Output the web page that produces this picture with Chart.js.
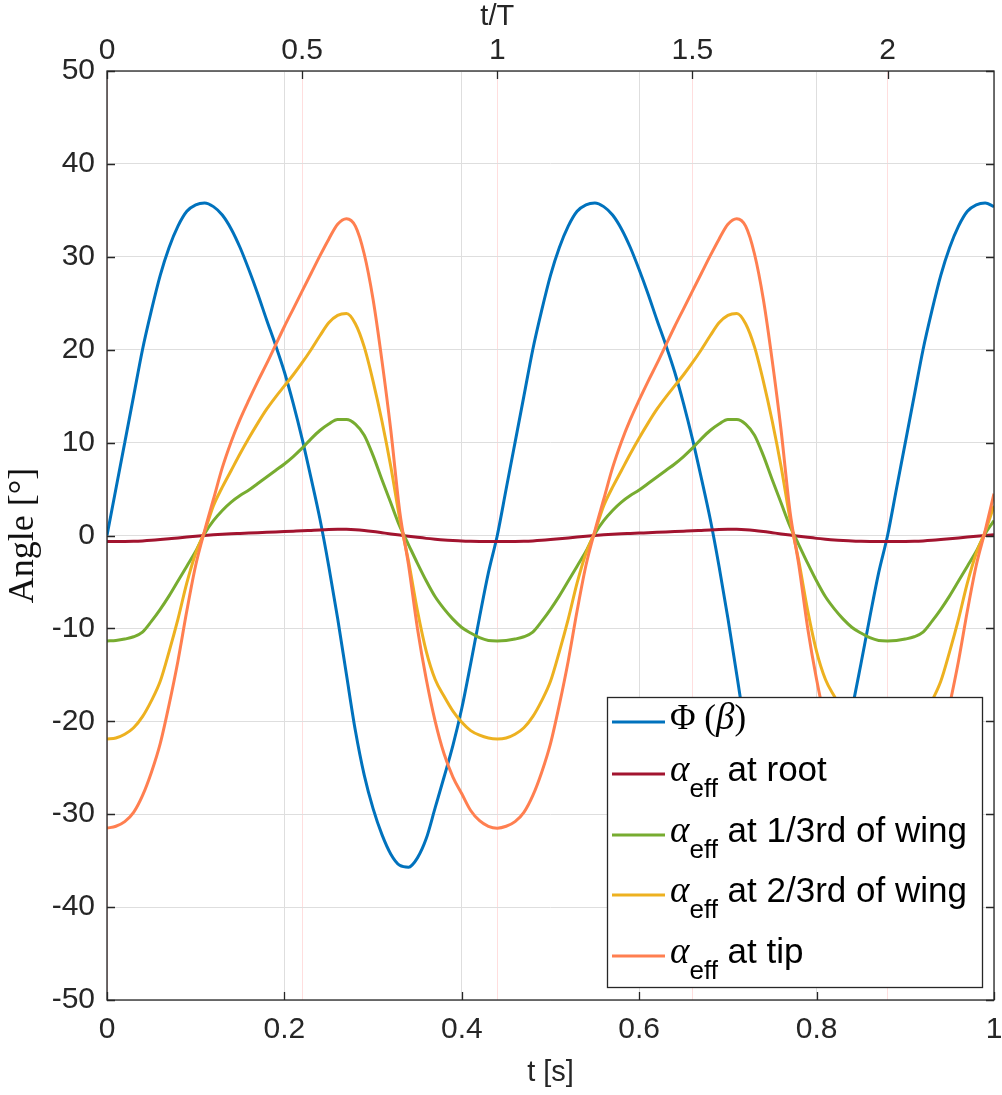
<!DOCTYPE html>
<html>
<head>
<meta charset="utf-8">
<script src="https://cdn.jsdelivr.net/npm/chart.js@4.4.0/dist/chart.umd.min.js"></script>
<style>
  html, body { margin: 0; padding: 0; background: #fff; }
  #wrap { width: 1002px; height: 1095px; }
</style>
</head>
<body>
<div id="wrap"><canvas id="angleChart" width="1002" height="1095"></canvas></div>
<script>
// --- data: time in s, angles in degrees ---
const tSec = [
  0, 0.01, 0.02, 0.03, 0.04, 0.05, 0.06, 0.07, 0.08, 0.09,
  0.10, 0.11, 0.12, 0.13, 0.14, 0.15, 0.16, 0.17, 0.18, 0.19,
  0.20, 0.21, 0.22, 0.23, 0.24, 0.25, 0.26, 0.27, 0.28, 0.29,
  0.30, 0.31, 0.32, 0.33, 0.34, 0.35, 0.36, 0.37, 0.38, 0.39,
  0.40, 0.41, 0.42, 0.43, 0.44, 0.45, 0.46, 0.47, 0.48, 0.49,
  0.50, 0.51, 0.52, 0.53, 0.54, 0.55, 0.56, 0.57, 0.58, 0.59,
  0.60, 0.61, 0.62, 0.63, 0.64, 0.65, 0.66, 0.67, 0.68, 0.69,
  0.70, 0.71, 0.72, 0.73, 0.74, 0.75, 0.76, 0.77, 0.78, 0.79,
  0.80, 0.81, 0.82, 0.83, 0.84, 0.85, 0.86, 0.87, 0.88, 0.89,
  0.90, 0.91, 0.92, 0.93, 0.94, 0.95, 0.96, 0.97, 0.98, 0.99,
  1.00
];

const phiBeta = [
  0, 5.0, 10.0, 15.0, 20.0, 24.2, 28.0, 31.0, 33.3, 34.9,
  35.6, 35.8, 35.4, 34.5, 33.0, 31.0, 28.6, 26.0, 23.2, 20.5,
  17.6, 14.2, 10.4, 6.2, 1.8, -3.3, -8.9, -15.0, -21.0, -25.8,
  -29.4, -32.2, -34.3, -35.5, -35.7, -34.7, -32.6, -29.3, -26.0, -22.6,
  -18.6, -13.8, -8.8, -4.0, 0, 5.0, 10.0, 15.0, 20.0, 24.2,
  28.0, 31.0, 33.3, 34.9, 35.6, 35.8, 35.4, 34.5, 33.0, 31.0,
  28.6, 26.0, 23.2, 20.5, 17.6, 14.2, 10.4, 6.2, 1.8, -3.3,
  -8.9, -15.0, -21.0, -25.8, -29.4, -32.2, -34.3, -35.5, -35.7, -34.7,
  -32.6, -29.3, -26.0, -22.6, -18.6, -13.8, -8.8, -4.0, 0, 5.0,
  10.0, 15.0, 20.0, 24.2, 28.0, 31.0, 33.3, 34.9, 35.6, 35.8,
  35.4
];

const aRoot = [
  -0.65, -0.65, -0.64, -0.62, -0.58, -0.52, -0.44, -0.35, -0.26, -0.17,
  -0.08, 0.0, 0.07, 0.13, 0.18, 0.22, 0.26, 0.30, 0.34, 0.38,
  0.42, 0.46, 0.50, 0.55, 0.60, 0.64, 0.66, 0.66, 0.62, 0.54,
  0.43, 0.30, 0.17, 0.05, -0.08, -0.20, -0.31, -0.40, -0.48, -0.54,
  -0.59, -0.62, -0.64, -0.65, -0.65, -0.65, -0.64, -0.62, -0.58, -0.52,
  -0.44, -0.35, -0.26, -0.17, -0.08, 0.0, 0.07, 0.13, 0.18, 0.22,
  0.26, 0.30, 0.34, 0.38, 0.42, 0.46, 0.50, 0.55, 0.60, 0.64,
  0.66, 0.66, 0.62, 0.54, 0.43, 0.30, 0.17, 0.05, -0.08, -0.20,
  -0.31, -0.40, -0.48, -0.54, -0.59, -0.62, -0.64, -0.65, -0.65, -0.65,
  -0.64, -0.62, -0.58, -0.52, -0.44, -0.35, -0.26, -0.17, -0.08, 0.0,
  0.07
];

const aThird = [
  -11.35, -11.3, -11.15, -10.9, -10.4, -9.25, -7.95, -6.5, -4.9, -3.3,
  -1.7, 0.2, 1.6, 2.7, 3.6, 4.3, 4.9, 5.6, 6.3, 7.0,
  7.7, 8.5, 9.4, 10.4, 11.3, 12.0, 12.5, 12.5, 12.0, 10.8,
  8.6, 6.0, 3.5, 1.0, -1.0, -3.0, -4.9, -6.6, -7.9, -9.0,
  -9.9, -10.5, -11.0, -11.3, -11.35, -11.3, -11.15, -10.9, -10.4, -9.25,
  -7.95, -6.5, -4.9, -3.3, -1.7, 0.2, 1.6, 2.7, 3.6, 4.3,
  4.9, 5.6, 6.3, 7.0, 7.7, 8.5, 9.4, 10.4, 11.3, 12.0,
  12.5, 12.5, 12.0, 10.8, 8.6, 6.0, 3.5, 1.0, -1.0, -3.0,
  -4.9, -6.6, -7.9, -9.0, -9.9, -10.5, -11.0, -11.3, -11.35, -11.3,
  -11.15, -10.9, -10.4, -9.25, -7.95, -6.5, -4.9, -3.3, -1.7, 0.2,
  1.6
];

const aTwoThird = [
  -21.9, -21.8, -21.4, -20.7, -19.5, -17.8, -15.7, -12.5, -9.0, -5.1,
  -1.9, 0.4, 3.2, 5.2, 7.0, 8.8, 10.5, 12.1, 13.6, 14.9,
  16.1, 17.3, 18.6, 20.0, 21.5, 22.9, 23.7, 23.9, 22.8, 20.3,
  16.6, 12.3, 7.4, 1.8, -2.8, -8.1, -12.5, -15.5, -17.3, -18.9,
  -20.1, -21.0, -21.5, -21.8, -21.9, -21.8, -21.4, -20.7, -19.5, -17.8,
  -15.7, -12.5, -9.0, -5.1, -1.9, 0.4, 3.2, 5.2, 7.0, 8.8,
  10.5, 12.1, 13.6, 14.9, 16.1, 17.3, 18.6, 20.0, 21.5, 22.9,
  23.7, 23.9, 22.8, 20.3, 16.6, 12.3, 7.4, 1.8, -2.8, -8.1,
  -12.5, -15.5, -17.3, -18.9, -20.1, -21.0, -21.5, -21.8, -21.9, -21.8,
  -21.4, -20.7, -19.5, -17.8, -15.7, -12.5, -9.0, -5.1, -1.9, 0.4,
  3.2
];

const aTip = [
  -31.5, -31.3, -30.8, -29.8, -28.0, -25.5, -22.4, -18.2, -13.5, -8.1,
  -3.2, 0.5, 3.9, 7.3, 10.1, 12.5, 14.6, 16.6, 18.5, 20.5,
  22.5, 24.4, 26.3, 28.2, 30.1, 31.9, 33.5, 34.1, 33.3, 30.3,
  25.4, 18.8, 11.3, 2.6, -3.2, -10.0, -15.5, -20.0, -23.5, -26.0,
  -27.8, -29.6, -30.7, -31.3, -31.5, -31.3, -30.8, -29.8, -28.0, -25.5,
  -22.4, -18.2, -13.5, -8.1, -3.2, 0.5, 3.9, 7.3, 10.1, 12.5,
  14.6, 16.6, 18.5, 20.5, 22.5, 24.4, 26.3, 28.2, 30.1, 31.9,
  33.5, 34.1, 33.3, 30.3, 25.4, 18.8, 11.3, 2.6, -3.2, -10.0,
  -15.5, -20.0, -23.5, -26.0, -27.8, -29.6, -30.7, -31.3, -31.5, -31.3,
  -30.8, -29.8, -28.0, -25.5, -22.4, -18.2, -13.5, -8.1, -3.2, 0.5,
  4.5
];

const xTicks = [0, 0.2, 0.4, 0.6, 0.8, 1];
const yTicks = [-50, -40, -30, -20, -10, 0, 10, 20, 30, 40, 50];
const topTicks = [0, 0.5, 1, 1.5, 2];   // t/T
const periodT = 0.44;                   // s

const seriesLabels = ['Φ (β)', 'α_eff at root', 'α_eff at 1/3rd of wing', 'α_eff at 2/3rd of wing', 'α_eff at tip'];
// pieces for the legend: s = sans, r = serif, i = serif italic, b = subscript
const legendPieces = [
  [['Φ', 'r'], [' (', 'r'], ['β', 'i'], [')', 'r']],
  [['α', 'i'], ['eff', 'b'], [' at root', 's']],
  [['α', 'i'], ['eff', 'b'], [' at 1/3rd of wing', 's']],
  [['α', 'i'], ['eff', 'b'], [' at 2/3rd of wing', 's']],
  [['α', 'i'], ['eff', 'b'], [' at tip', 's']]
];

const SANS = '"Liberation Sans", Arial, Helvetica, sans-serif';
const SERIF = '"Liberation Serif", "Times New Roman", serif';
const AXIS = '#262626';

function pts(vals) {
  return tSec.map((t, i) => ({ x: t, y: vals[i] }));
}

// no extra room for half-labels at the ends: keep the box where it is
function noEdgePad(s) {
  s.paddingLeft = 0; s.paddingRight = 0; s.paddingTop = 0; s.paddingBottom = 0;
}

// inward ticks + box, like a MATLAB axes; t/T title over the 0..2 span
const axisBox = {
  id: 'axisBox',
  afterDatasetsDraw(chart) {
    const { ctx, chartArea: a, scales } = chart;
    const tl = 8;
    ctx.save();
    ctx.strokeStyle = AXIS;
    ctx.lineWidth = 1.3;
    ctx.strokeRect(a.left, a.top, a.right - a.left, a.bottom - a.top);
    ctx.beginPath();
    scales.x.ticks.forEach(t => {
      const p = Math.round(scales.x.getPixelForValue(t.value)) + 0.5;
      ctx.moveTo(p, a.bottom); ctx.lineTo(p, a.bottom - tl);
    });
    scales.x2.ticks.forEach(t => {
      const p = Math.round(scales.x2.getPixelForValue(t.value)) + 0.5;
      ctx.moveTo(p, a.top); ctx.lineTo(p, a.top + tl);
    });
    scales.y.ticks.forEach(t => {
      const p = Math.round(scales.y.getPixelForValue(t.value)) + 0.5;
      ctx.moveTo(a.left, p); ctx.lineTo(a.left + tl, p);
      ctx.moveTo(a.right, p); ctx.lineTo(a.right - tl, p);
    });
    ctx.stroke();

    const first = scales.x2.getPixelForValue(topTicks[0]);
    const last = scales.x2.getPixelForValue(topTicks[topTicks.length - 1]);
    ctx.fillStyle = AXIS;
    ctx.font = '29px ' + SANS;
    ctx.textAlign = 'center';
    ctx.textBaseline = 'middle';
    ctx.fillText('t/T', (first + last) / 2, 17);
    ctx.restore();
  }
};

// legend box in the lower right, drawn with subscript text
const boxLegend = {
  id: 'boxLegend',
  afterDraw(chart) {
    const { ctx, chartArea: a } = chart;
    const box = { left: 607, top: 697, right: a.right - 12, bottom: a.bottom - 13 };
    const rowY = [722, 774, 835, 895, 956];
    const fonts = {
      s: '35px ' + SANS,
      r: '35px ' + SERIF,
      i: 'italic 37px ' + SERIF,
      b: '26px ' + SANS
    };
    ctx.save();
    ctx.fillStyle = '#fff';
    ctx.fillRect(box.left, box.top, box.right - box.left, box.bottom - box.top);
    ctx.strokeStyle = AXIS;
    ctx.lineWidth = 1.3;
    ctx.strokeRect(box.left + 0.5, box.top + 0.5, box.right - box.left, box.bottom - box.top);
    chart.data.datasets.forEach((ds, k) => {
      const y = rowY[k];
      ctx.strokeStyle = ds.borderColor;
      ctx.lineWidth = 3;
      ctx.beginPath();
      ctx.moveTo(box.left + 5, y);
      ctx.lineTo(box.left + 58, y);
      ctx.stroke();
      let x = box.left + 63;
      ctx.fillStyle = '#000';
      ctx.textBaseline = 'alphabetic';
      legendPieces[k].forEach(([txt, f]) => {
        ctx.font = fonts[f];
        ctx.fillText(txt, x, f === 'b' ? y + 23 : y + 7);
        x += ctx.measureText(txt).width;
      });
    });
    ctx.restore();
  }
};

const colors = ['#0072BD', '#A2142F', '#77AC30', '#EDB120', '#FF7F50'];
const series = [phiBeta, aRoot, aThird, aTwoThird, aTip];

new Chart(document.getElementById('angleChart'), {
  type: 'line',
  data: {
    datasets: series.map((vals, k) => ({
      label: seriesLabels[k],
      data: pts(vals),
      borderColor: colors[k],
      backgroundColor: colors[k],
      borderWidth: 3,
      pointRadius: 0,
      fill: false,
      cubicInterpolationMode: 'monotone',
      order: series.length - k,
      xAxisID: 'x',
      yAxisID: 'y'
    }))
  },
  options: {
    responsive: false,
    animation: false,
    layout: { padding: { left: 0, right: 8, top: 0, bottom: 0 } },
    plugins: {
      legend: { display: false },
      tooltip: { enabled: false }
    },
    scales: {
      x: {
        type: 'linear',
        position: 'bottom',
        min: 0,
        max: 1,
        afterBuildTicks: s => { s.ticks = xTicks.map(v => ({ value: v })); },
        afterFit: s => { s.height = 95; noEdgePad(s); },
        grid: { color: '#dedede', lineWidth: 1, drawTicks: false },
        border: { display: false },
        ticks: { color: AXIS, font: { family: SANS, size: 30 }, padding: 12, maxRotation: 0, callback: v => String(v) },
        title: { display: true, text: 't [s]', color: AXIS, font: { family: SANS, size: 29 }, padding: { top: 0, bottom: 5 } }
      },
      x2: {
        type: 'linear',
        position: 'top',
        min: 0,
        max: 1 / periodT,
        afterBuildTicks: s => { s.ticks = topTicks.map(v => ({ value: v })); },
        afterFit: s => { s.height = 71; noEdgePad(s); },
        grid: { color: 'rgba(255,0,0,0.13)', lineWidth: 1, drawTicks: false },
        border: { display: false },
        ticks: { color: AXIS, font: { family: SANS, size: 30 }, padding: 2, maxRotation: 0, callback: v => String(v) },
        title: { display: false }
      },
      y: {
        type: 'linear',
        position: 'left',
        min: -50,
        max: 50,
        afterBuildTicks: s => { s.ticks = yTicks.map(v => ({ value: v })); },
        afterFit: s => { s.width = 107; noEdgePad(s); },
        grid: { color: '#dedede', lineWidth: 1, drawTicks: false },
        border: { display: false },
        ticks: { color: AXIS, font: { family: SANS, size: 30 }, padding: 12, callback: v => String(v) },
        title: { display: true, text: 'Angle [°]', color: '#111', font: { family: SERIF, size: 36 }, padding: { top: 2, bottom: 0 } }
      }
    }
  },
  plugins: [axisBox, boxLegend]
});
</script>
</body>
</html>
